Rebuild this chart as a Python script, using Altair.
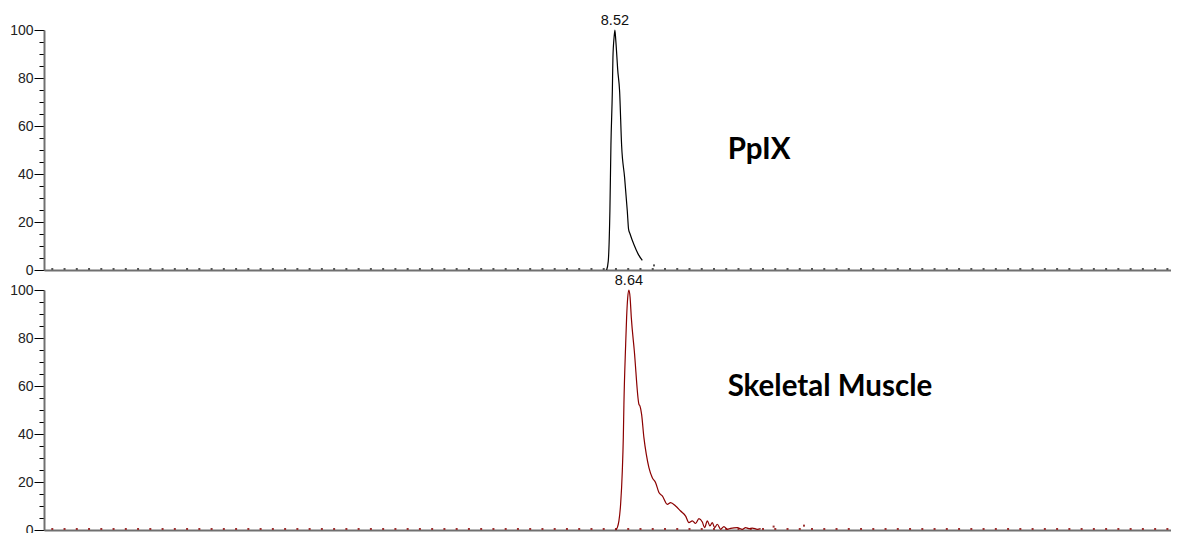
import altair as alt
import pandas as pd

# ---- data ----
# PpIX trace (retention time in min, relative abundance %)
top_t = [8.449, 8.463, 8.477, 8.486, 8.498, 8.503, 8.513, 8.520, 8.527, 8.5406, 8.5431,
         8.5603, 8.5774, 8.6031, 8.6263, 8.6370, 8.6485, 8.6828, 8.7205, 8.7548]
top_v = [0, 3.7, 24.5, 52.3, 74.5, 88.4, 97, 100, 96, 86, 84,
         74.5, 52, 38.5, 24.5, 17, 15.2, 10.6, 6.5, 4.0]

# Skeletal muscle trace
bot_t = [8.526, 8.5406, 8.5543, 8.5689, 8.5834, 8.592, 8.5972, 8.6117, 8.6203, 8.630, 8.640,
         8.650, 8.6606, 8.6863, 8.7257, 8.7343, 8.7488, 8.7685, 8.7891, 8.8114, 8.8405,
         8.8688, 8.8971, 8.9262, 8.969, 8.9973, 9.0401, 9.083, 9.1258, 9.1541, 9.1833,
         9.2116, 9.2399, 9.269, 9.2887, 9.3118, 9.334, 9.3546, 9.3743, 9.3975, 9.4258,
         9.454, 9.4832, 9.5115, 9.5689, 9.6117, 9.64, 9.6683, 9.6974, 9.7403, 9.7685]
bot_v = [0, 1.0, 3.8, 10.7, 24.6, 38.5, 52.4, 76.7, 88.6, 97, 100,
         97, 88.5, 74.6, 52.4, 51.7, 48.2, 38.5, 31.5, 26.0, 21.8,
         19.7, 15.6, 14.2, 10.7, 11.4, 10.0, 7.9, 5.8, 3.1, 3.8,
         2.7, 4.7, 3.3, 1.0, 3.8, 1.7, 3.1, 1.0, 2.4, 0.3,
         1.4, 0.3, 0.7, 1.0, 0.3, 1.0, 0.6, 0.8, 0.3, 0.6]

# scans drawn as dots along the baseline (regular sampling grid)
scan_t = [round(3.699 + 0.105 * i, 3) for i in range(92)]
top_extra_t = [8.855]
top_extra_v = [1.5]
bot_extra_t = [9.88, 10.14]
bot_extra_v = [1.0, 1.4]

peak_labels = ["8.52", "8.64"]
peak_t = [8.52, 8.64]
peak_v = [100, 100]
names = ["PpIX", "Skeletal Muscle"]
name_t = [9.486, 9.486]
name_v = [50, 59.5]
colors = ["#000000", "#8b0000"]
dot_colors = ["#555555", "#9b3030"]

X_DOMAIN = [3.628, 13.285]
W = 1127
H = 240


def panel(i, t, v, dots_t, dots_v):
    line_df = pd.DataFrame({"t": t, "v": v})
    dots_df = pd.DataFrame({"t": dots_t, "v": dots_v})
    lab_df = pd.DataFrame({"t": [peak_t[i]], "v": [peak_v[i]], "s": [peak_labels[i]]})
    name_df = pd.DataFrame({"t": [name_t[i]], "v": [name_v[i]], "s": [names[i]]})

    x = alt.X("t:Q", scale=alt.Scale(domain=X_DOMAIN, nice=False, zero=False),
              axis=alt.Axis(labels=False, ticks=False, title=None, grid=False,
                            domainColor="#707070", domainWidth=2))
    y = alt.Y("v:Q", scale=alt.Scale(domain=[0, 100], nice=False, zero=True),
              axis=alt.Axis(values=list(range(0, 101, 5)), title=None, grid=False,
                            tickSize={"condition": {"test": "datum.value % 20 === 0", "value": 10}, "value": 5},
                            tickColor="#000000", tickWidth=1,
                            labelExpr="datum.value % 20 === 0 ? datum.label : ''",
                            labelFont="Liberation Sans", labelFontSize=14, labelColor="#222222",
                            labelPadding=1, domainColor="#707070", domainWidth=2))

    line = alt.Chart(line_df).mark_line(color=colors[i], strokeWidth=1.2,
                                        interpolate="monotone").encode(x=x, y=y)
    dots = alt.Chart(dots_df).mark_square(color=dot_colors[i], size=4, opacity=1,
                                          yOffset=-1).encode(x=x, y=y)
    lab = alt.Chart(lab_df).mark_text(font="Liberation Sans", fontSize=14.5, color="#111111",
                                      align="center", baseline="alphabetic", dy=-5).encode(x=x, y=y, text="s:N")
    name = alt.Chart(name_df).mark_text(font="Lato", fontWeight="bold", fontSize=29.5, color="#000000",
                                        align="left", baseline="middle").encode(x=x, y=y, text="s:N")
    return alt.layer(dots, line, lab, name).properties(width=W, height=H)


top = panel(0, top_t, top_v, scan_t + top_extra_t, [0] * len(scan_t) + top_extra_v)
bot = panel(1, bot_t, bot_v, scan_t + bot_extra_t, [0] * len(scan_t) + bot_extra_v)

chart = alt.vconcat(top, bot, spacing=20, bounds="flush").properties(
    padding={"left": 1, "top": 5, "right": 0, "bottom": 0}
).configure_view(stroke=None)

chart.save("out.html", embed_options={"renderer": "svg", "actions": False})
